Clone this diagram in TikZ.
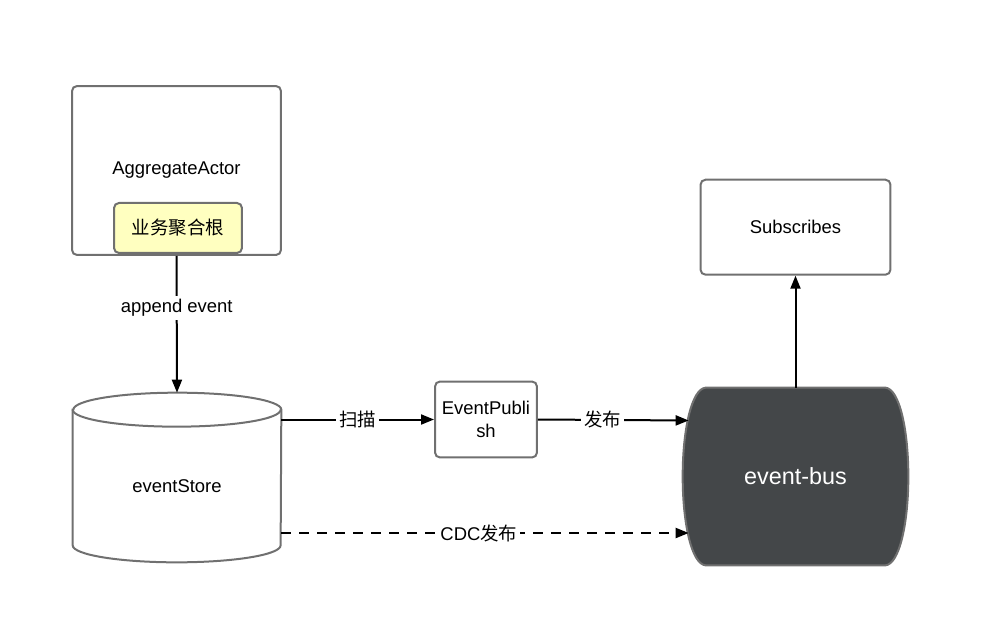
\documentclass[tikz,border=0pt]{standalone}
\usepackage{fontspec}
\setmainfont{Liberation Sans}
\newfontfamily\cjk{Noto Sans CJK SC}
\usepackage{tikz}
\usetikzlibrary{shapes.geometric, arrows.meta, positioning, calc, backgrounds}
\definecolor{boxgray}{HTML}{707070}
\definecolor{rootyellow}{HTML}{FFFFC0}
\definecolor{busdark}{HTML}{444749}
\tikzset{
    block/.style={rectangle, rounded corners=0.1cm, draw=boxgray, line width=0.04cm, fill=white, text centered},
    arrow/.style={line width=0.04cm, -{Triangle[length=0.26cm, width=0.2cm]}},
    tag/.style={fill=white, inner sep=0.06cm},
}

\begin{document}
\begin{tikzpicture}[x=0.02cm, y=-0.02cm, font=\fontsize{10.5}{13}\selectfont]
    \useasboundingbox (0,0) rectangle (990,635);

    \node [block, minimum width=4.18cm, minimum height=3.38cm] (actor) at (176.5,170.5) {AggregateActor};
    \node [block, fill=rootyellow, minimum width=2.56cm, minimum height=1cm, above=0.04cm of actor.south, xshift=0.03cm] (root) {\cjk 业务聚合根};

    % eventStore cylinder
    \node [minimum width=4.16cm, minimum height=3.38cm] (store) at (177,477.5) {};
    \draw [draw=boxgray, line width=0.04cm, fill=white] ($(store.north west)+(0,17)$) -- ($(store.south west)+(0,-17)$)
        arc [start angle=180, end angle=360, x radius=2.08cm, y radius=0.34cm] -- ($(store.north east)+(0,17)$)
        arc [start angle=0, end angle=180, x radius=2.08cm, y radius=0.34cm] -- cycle;
    \draw [draw=boxgray, line width=0.04cm] ($(store.north west)+(0,17)$)
        arc [start angle=180, end angle=360, x radius=2.08cm, y radius=0.34cm];
    \node (storetext) at ($(store.center)+(0,9)$) {eventStore};

    \node [block, minimum width=2.04cm, minimum height=1.52cm, align=center] (epub) at (486,419.5) {EventPubli\\sh};

    % event-bus
    \node [minimum width=4.5cm, minimum height=3.54cm, text=white, font=\fontsize{13.3}{16}\selectfont] (bus) at (795.5,476.5) {event-bus};
    \begin{scope}[on background layer]
        \fill [busdark, draw=boxgray, line width=0.04cm] ($(bus.north west)+(23,0)$) -- ($(bus.north east)+(-23,0)$)
            .. controls ($(bus.north east)+(-9,1)$) and ($(bus.east)+(0,-47)$) .. (bus.east)
            .. controls ($(bus.east)+(0,47)$) and ($(bus.south east)+(-9,-1)$) .. ($(bus.south east)+(-23,0)$)
            -- ($(bus.south west)+(23,0)$)
            .. controls ($(bus.south west)+(9,-1)$) and ($(bus.west)+(0,47)$) .. (bus.west)
            .. controls ($(bus.west)+(0,-47)$) and ($(bus.north west)+(9,1)$) .. cycle;
    \end{scope}
    \coordinate (busin) at ($(bus.west)+(6,-56)$);
    \coordinate (buscdc) at ($(bus.west)+(6,56.5)$);

    \node [block, minimum width=3.8cm, minimum height=1.9cm, above=2.24cm of bus] (sub) {Subscribes};

    \draw [arrow] (actor.south) -- node[tag, pos=0.38] {append event} (store.north);
    \draw [arrow] (epub.west -| store.east) -- node[tag] {\cjk 扫描} (epub.west);
    \draw [arrow] (epub.east) -- node[tag, pos=0.43] {\cjk 发布} (busin);
    \draw [arrow, dash pattern=on 0.2cm off 0.16cm] (store.east |- buscdc) -- node[tag, pos=0.485] {CDC{\cjk 发布}} (buscdc);
    \draw [arrow] (bus.north) -- (sub.south);
\end{tikzpicture}
\end{document}
